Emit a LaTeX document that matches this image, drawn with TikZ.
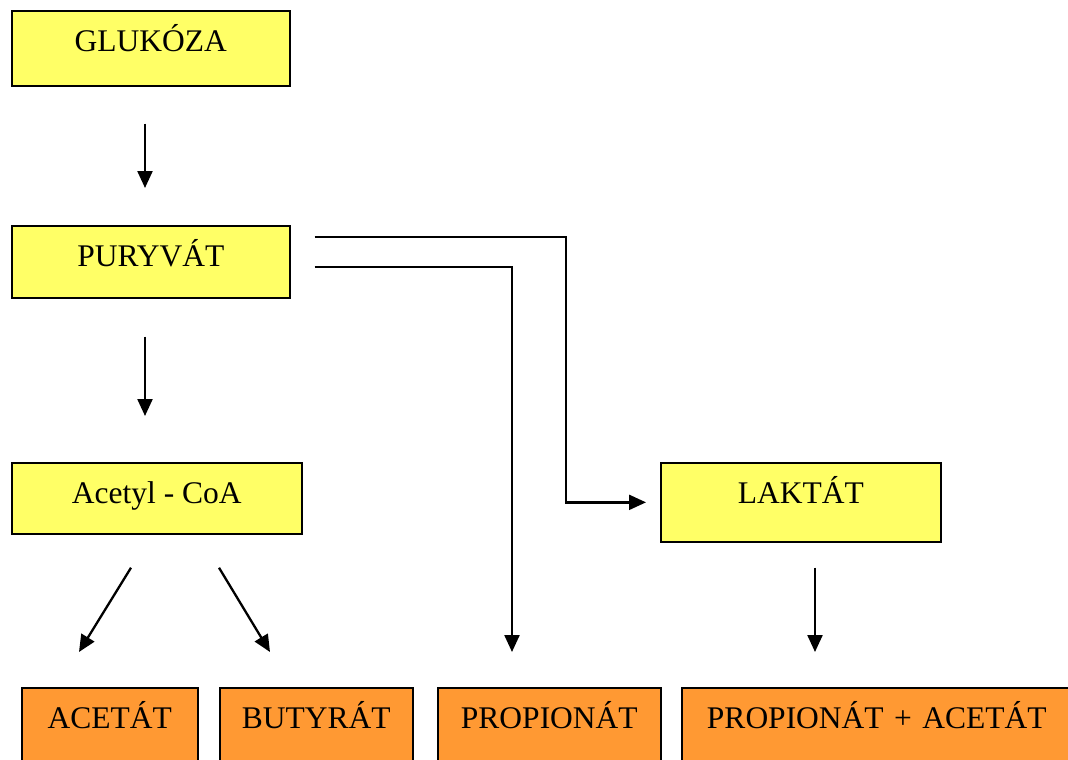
\documentclass[tikz,border=0pt]{standalone}
\usepackage{fontspec}
\setmainfont{Liberation Serif}
\usetikzlibrary{calc,arrows.meta}
\definecolor{yellowbox}{HTML}{FFFF66}
\definecolor{orangebox}{HTML}{FF9933}
\begin{document}
\begin{tikzpicture}[x=1pt,y=-1pt,
  box/.style={draw=black, line width=1.7pt, inner sep=0pt, anchor=north west,
    text height=41pt, font=\fontsize{31.5}{36}\selectfont},
  yel/.style={box, fill=yellowbox},
  ora/.style={box, fill=orangebox},
  arr/.style={line width=2.3pt, -{Triangle[length=17pt,width=15pt]}}]
\useasboundingbox (0,0) rectangle (1068,760);
\clip (0,0) rectangle (1068,760);
\fill[white] (0,0) rectangle (1068,760);
% yellow boxes
\node[yel, minimum width=278pt, text depth=34pt] (glu) at (11,10) {GLUKÓZA};
\node[yel, minimum width=278pt, text depth=31pt] (pur) at (11,225) {PURYVÁT};
\node[yel, minimum width=290pt, text depth=30pt] (aco) at (11,462) {Acetyl - CoA};
\node[yel, minimum width=280pt, text depth=38pt] (lak) at (660,462) {LAKTÁT};
% orange boxes
\node[ora, minimum width=176pt, text depth=100pt] (acet) at (21,687) {ACETÁT};
\node[ora, minimum width=193pt, text depth=100pt] (but) at (219,687) {BUTYRÁT};
\node[ora, minimum width=223pt, text depth=100pt] (pro) at (437,687) {PROPIONÁT};
\node[ora, minimum width=396pt, text depth=100pt, text width=392pt, align=center,
      xshift=0pt] (pa) at (681,687) {\hspace*{-6pt}PROPIONÁT + ACETÁT};
% connectors
\draw[arr] ($(glu.south west)+(134,37)$) -- ($(pur.north west)+(134,-37)$);
\draw[arr] ($(pur.south west)+(134,38)$) -- ($(aco.north west)+(134,-46)$);
\coordinate (p1) at ($(pur.north east)+(24,12)$);
\coordinate (p2) at ($(pur.north east)+(24,42)$);
\draw[arr] (p1) -- ++(251,0) |- ($(lak.west)+(-14,0)$);
\draw[arr] (p2) -| ($(pro.north west)+(75,-35)$);
\draw[arr] ($(aco.south west)+(120,33)$) -- ($(acet.north west)+(58,-35)$);
\draw[arr] ($(aco.south west)+(208,33)$) -- ($(but.north west)+(51,-35)$);
\draw[arr] ($(lak.south west)+(155,25)$) -- ($(pa.north west)+(134,-35)$);
\end{tikzpicture}
\end{document}
